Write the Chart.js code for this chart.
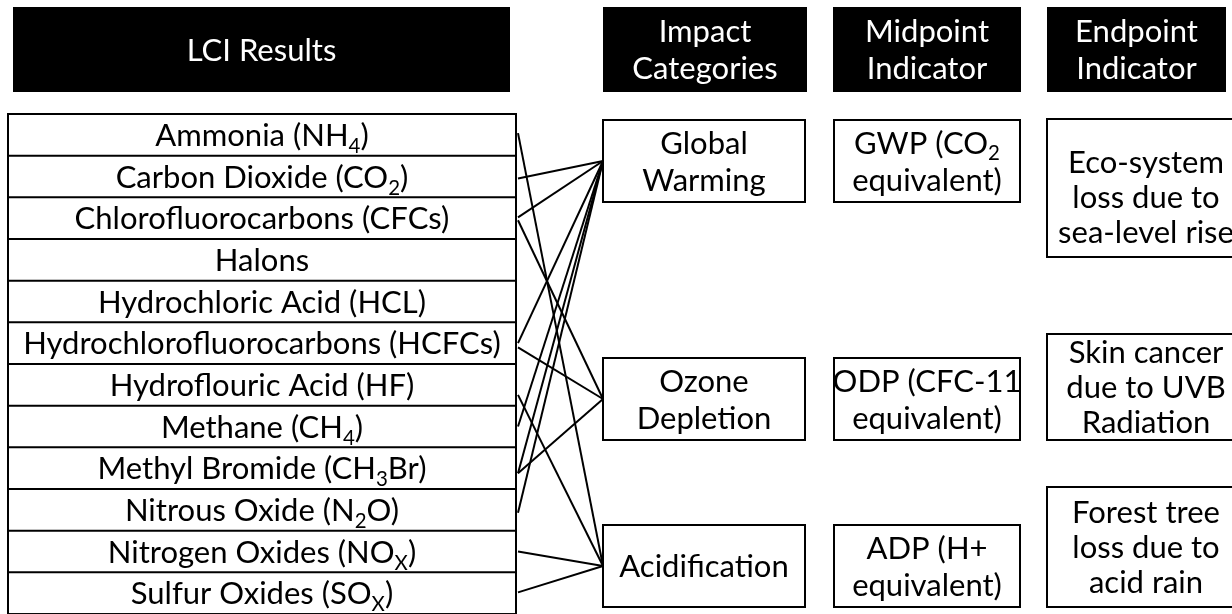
<!DOCTYPE html>
<html>
<head>
<meta charset="utf-8">
<script src="https://cdn.jsdelivr.net/npm/chart.js@4.4.1/dist/chart.umd.min.js"></script>
<style>
  html, body { margin: 0; padding: 0; background: #fff; }
  #wrap { width: 1232px; height: 614px; }
</style>
</head>
<body>
<div id="wrap"><canvas id="chart" width="1232" height="614"></canvas></div>
<script>
// LCI inventory rows, top to bottom. _{..} marks a subscript
const lciItems = [
  'Ammonia (NH_{4})', 'Carbon Dioxide (CO_{2})', 'Chlorofluorocarbons (CFCs)', 'Halons',
  'Hydrochloric Acid (HCL)', 'Hydrochlorofluorocarbons (HCFCs)', 'Hydroflouric Acid (HF)',
  'Methane (CH_{4})', 'Methyl Bromide (CH_{3}Br)', 'Nitrous Oxide (N_{2}O)',
  'Nitrogen Oxides (NO_{X})', 'Sulfur Oxides (SO_{X})'
];
const headers = [['LCI Results'], ['Impact', 'Categories'], ['Midpoint', 'Indicator'], ['Endpoint', 'Indicator']];
const impactCategories = [['Global', 'Warming'], ['Ozone', 'Depletion'], ['Acidification']];
const midpointIndicators = [['GWP (CO_{2}', 'equivalent)'], ['ODP (CFC-11', 'equivalent)'], ['ADP (H+', 'equivalent)']];
const endpointIndicators = [
  ['Eco-system', 'loss due to', 'sea-level rise'],
  ['Skin cancer', 'due to UVB', 'Radiation'],
  ['Forest tree', 'loss due to', 'acid rain']
];

// connections: LCI row -> impact category, and where on the row the line leaves (0 = top, 1 = bottom)
const linkFrom   = [0, 1, 2, 2, 5, 5, 6, 7, 8, 8, 9, 10, 11];
const linkTo     = [2, 0, 0, 1, 0, 1, 2, 0, 0, 1, 0, 2, 2];
const linkRowPos = [0.46, 0.55, 0.48, 0.55, 0.5, 0.6, 0.74, 0.5, 0.62, 0.62, 0.57, 0.5, 0.48];

// layout (canvas units)
const FONT = 'Lato, "Open Sans", sans-serif';
const rowTop = 114, rowH = 41.67, listX0 = 8, listX1 = 516;
const headY0 = 7, headY1 = 92;
const headCols = [[13, 510], [603, 807], [833, 1021], [1047, 1226]];
const col2 = [603, 805], col3 = [834, 1020], col4 = [1047, 1245];
const boxRows = [[120, 202], [358, 440], [525, 607]];
const endRows = [[119, 257], [334, 440], [487, 607]];
const endTextY = [197, 387, 547];
const lineX0 = 518;

let fontSize = 30;

function parseRich(s) {
  const parts = [];
  const re = /_\{([^}]*)\}/g;
  let last = 0, m;
  while ((m = re.exec(s))) {
    if (m.index > last) parts.push({ t: s.slice(last, m.index), sub: false });
    parts.push({ t: m[1], sub: true });
    last = re.lastIndex;
  }
  if (last < s.length) parts.push({ t: s.slice(last), sub: false });
  return parts;
}

function drawRich(ctx, s, cx, cy, color) {
  const parts = parseRich(s);
  const subSize = fontSize * 0.66;
  let w = 0;
  parts.forEach(p => {
    ctx.font = (p.sub ? subSize : fontSize) + 'px ' + FONT;
    p.w = ctx.measureText(p.t).width;
    w += p.w;
  });
  let x = cx - w / 2;
  const base = cy + fontSize * 0.36;
  ctx.fillStyle = color;
  ctx.textBaseline = 'alphabetic';
  ctx.textAlign = 'left';
  parts.forEach(p => {
    ctx.font = (p.sub ? subSize : fontSize) + 'px ' + FONT;
    ctx.fillText(p.t, x, base + (p.sub ? fontSize * 0.22 : 0));
    x += p.w;
  });
}

function drawLines(ctx, lines, cx, cy, gap, color) {
  const start = cy - (lines.length - 1) * gap / 2;
  lines.forEach((l, i) => drawRich(ctx, l, cx, start + i * gap, color));
}

const diagramPlugin = {
  id: 'diagram',
  beforeDatasetsDraw(chart) {
    const ctx = chart.ctx;
    const sx = chart.scales.x, sy = chart.scales.y;
    const X = v => sx.getPixelForValue(v), Y = v => sy.getPixelForValue(v);
    ctx.save();

    // fit the font to the widest inventory row
    ctx.font = '100px ' + FONT;
    const widest = Math.max(...lciItems.map(s => ctx.measureText(s.replace(/_\{|\}/g, '')).width));
    fontSize = Math.min(34, 100 * 478 / widest);

    // black header boxes
    headers.forEach((h, i) => {
      const [a, b] = headCols[i];
      ctx.fillStyle = '#000';
      ctx.fillRect(X(a), Y(headY0), X(b) - X(a), Y(headY1) - Y(headY0));
      drawLines(ctx, h, (X(a) + X(b)) / 2, (Y(headY0) + Y(headY1)) / 2, 37, '#fff');
    });

    // inventory list
    ctx.strokeStyle = '#000';
    ctx.lineWidth = 2;
    const listBottom = rowTop + rowH * lciItems.length;
    ctx.strokeRect(X(listX0), Y(rowTop), X(listX1) - X(listX0), Y(listBottom) - Y(rowTop));
    lciItems.forEach((s, i) => {
      const y0 = rowTop + i * rowH;
      if (i > 0) {
        ctx.beginPath();
        ctx.moveTo(X(listX0), Y(y0));
        ctx.lineTo(X(listX1), Y(y0));
        ctx.stroke();
      }
      drawRich(ctx, s, (X(listX0) + X(listX1)) / 2, Y(y0 + rowH / 2), '#000');
    });

    // boxed columns
    const column = (labels, cols, rows, gap, textY) => {
      labels.forEach((l, i) => {
        const [a, b] = cols, [t, u] = rows[i];
        ctx.fillStyle = '#fff';
        ctx.fillRect(X(a), Y(t), X(b) - X(a), Y(u) - Y(t));
        ctx.strokeRect(X(a), Y(t), X(b) - X(a), Y(u) - Y(t));
        const cy = textY ? Y(textY[i]) : (Y(t) + Y(u)) / 2;
        drawLines(ctx, l, (X(a) + X(b)) / 2, cy, gap, '#000');
      });
    };
    column(impactCategories, col2, boxRows, 37);
    column(midpointIndicators, col3, boxRows, 37);
    column(endpointIndicators, col4, endRows, 35, endTextY);
    ctx.restore();
  }
};

const datasets = linkFrom.map((f, k) => {
  const to = boxRows[linkTo[k]];
  return {
    data: [
      { x: lineX0, y: rowTop + (f + linkRowPos[k]) * rowH },
      { x: col2[0], y: (to[0] + to[1]) / 2 }
    ],
    showLine: true,
    borderColor: '#000',
    borderWidth: 2,
    pointRadius: 0,
    fill: false
  };
});

new Chart(document.getElementById('chart'), {
  type: 'scatter',
  data: { datasets },
  options: {
    responsive: false,
    animation: false,
    layout: { padding: 0 },
    plugins: { legend: { display: false }, tooltip: { enabled: false } },
    scales: {
      x: { type: 'linear', min: 0, max: 1232, display: false },
      y: { type: 'linear', min: 0, max: 614, reverse: true, display: false }
    }
  },
  plugins: [diagramPlugin]
});
</script>
</body>
</html>
